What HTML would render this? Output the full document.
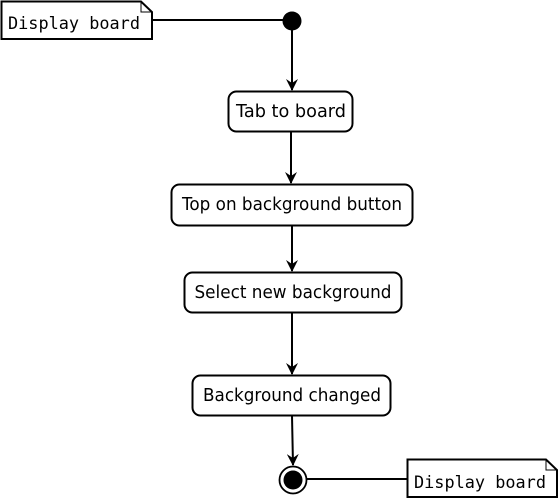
<!DOCTYPE html>
<html><head><meta charset="utf-8"><style>html,body{margin:0;padding:0;background:#fff}svg{display:block}</style></head>
<body>
<svg width="560" height="500" viewBox="0 0 560 500" xmlns="http://www.w3.org/2000/svg">
<defs>
<marker id="a" viewBox="0 0 12 12" refX="11" refY="6" markerWidth="12" markerHeight="12" markerUnits="userSpaceOnUse" orient="auto">
<path d="M0,0 L12,6 L0,12 L4,6 z" fill="#000"/>
</marker>
</defs>
<g fill="none" stroke="#000" stroke-width="2">
<path d="M1.5,1.5 H141 L152,12 V39 H1.5 Z" fill="#fff"/>
<path d="M141,1.5 V12 H152" stroke-width="1"/>
<line x1="152" y1="20" x2="285" y2="20"/>
<line x1="292" y1="28" x2="292" y2="90" marker-end="url(#a)"/>
<rect x="228.5" y="91.5" width="124" height="40" rx="8" fill="#fff"/>
<line x1="291" y1="132" x2="291" y2="183" marker-end="url(#a)"/>
<rect x="171.5" y="184.5" width="241" height="41" rx="8" fill="#fff"/>
<line x1="292" y1="226" x2="292" y2="271" marker-end="url(#a)"/>
<rect x="184.5" y="272.5" width="217" height="40" rx="8" fill="#fff"/>
<line x1="292" y1="313" x2="292" y2="374" marker-end="url(#a)"/>
<rect x="192.5" y="375.5" width="198" height="40" rx="8" fill="#fff"/>
<line x1="292" y1="416" x2="293" y2="465" marker-end="url(#a)"/>
<circle cx="293" cy="480" r="13.5" fill="#fff" stroke-width="1.8"/>
<line x1="307" y1="479" x2="407" y2="479"/>
<path d="M407.5,459.5 H546 L557,470 V497 H407.5 Z" fill="#fff"/>
<path d="M546,459.5 V470 H557" stroke-width="1"/>
</g>
<circle cx="292" cy="21" r="9.5" fill="#000"/>
<circle cx="293" cy="480" r="9.5" fill="#000"/>
<g font-family="'DejaVu Sans Mono','Liberation Mono',monospace" font-size="17" fill="#000">
<text x="8" y="29" textLength="132" lengthAdjust="spacingAndGlyphs">Display board</text>
<text x="414" y="488" textLength="132" lengthAdjust="spacingAndGlyphs">Display board</text>
</g>
<g font-family="'DejaVu Sans','Liberation Sans',sans-serif" font-size="18" fill="#000" text-anchor="middle">
<text x="291" y="117" textLength="110" lengthAdjust="spacingAndGlyphs">Tab to board</text>
<text x="292" y="210" textLength="220" lengthAdjust="spacingAndGlyphs">Top on background button</text>
<text x="293" y="298" textLength="197" lengthAdjust="spacingAndGlyphs">Select new background</text>
<text x="292" y="401" textLength="178" lengthAdjust="spacingAndGlyphs">Background changed</text>
</g>
</svg>
</body></html>
